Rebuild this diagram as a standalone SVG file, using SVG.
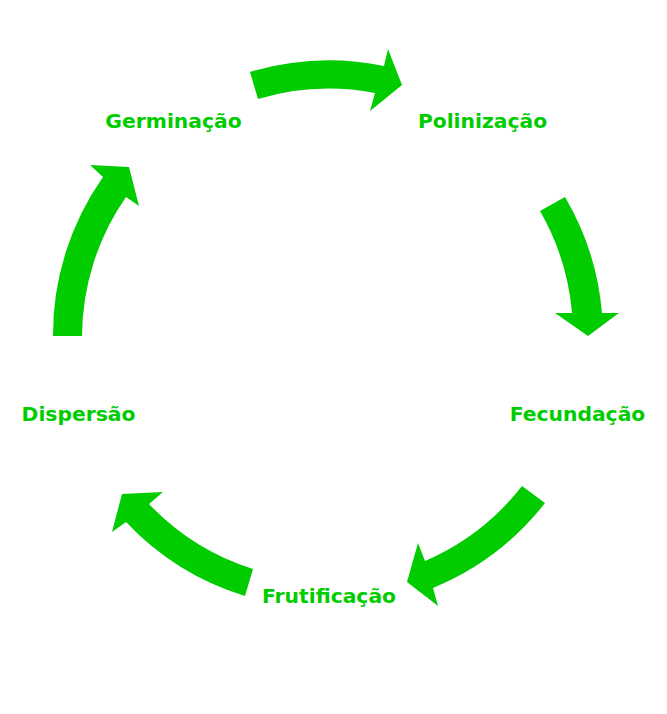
<svg xmlns="http://www.w3.org/2000/svg" width="667" height="714" viewBox="0 0 667 714">
<style>
.arrow{fill:#00CC00;stroke:none}
.lbl{font-family:"DejaVu Sans",Verdana,sans-serif;font-weight:bold;font-size:20.3px;fill:#00CC00;text-anchor:middle}
</style>
<rect width="667" height="714" fill="#FFFFFF"/>
<g id="connectors">
<path class="arrow" d="M250,72 A274,274 0 0 1 384,66 L388,49 L402,85 L370,111 L375,93 A246,246 0 0 0 258,99 Z"/>
<path class="arrow" d="M565,197 A274,274 0 0 1 602,313 L619,313 L588,336 L555,313 L572,313 A246,246 0 0 0 540,211 Z"/>
<path class="arrow" d="M545,503 A274,274 0 0 1 433,588 L438,606 L407,582 L418,543 L425,561 A246,246 0 0 0 522,486 Z"/>
<path class="arrow" d="M245,596 A274,274 0 0 1 126,522 L112,532 L122,494 L163,492 L149,504 A246,246 0 0 0 253,569 Z"/>
<path class="arrow" d="M53,336 A274,274 0 0 1 103,177 L90,165 L129,167 L139,206 L126,197 A246,246 0 0 0 82,336 Z"/>
</g>
<g id="germinacao"><text class="lbl" x="173.5" y="128">Germinação</text></g>
<g id="polinizacao"><text class="lbl" x="482.5" y="128">Polinização</text></g>
<g id="fecundacao"><text class="lbl" x="577.5" y="421">Fecundação</text></g>
<g id="frutificacao"><text class="lbl" x="329" y="603">Frutificação</text></g>
<g id="dispersao"><text class="lbl" x="78.5" y="421">Dispersão</text></g>
</svg>
